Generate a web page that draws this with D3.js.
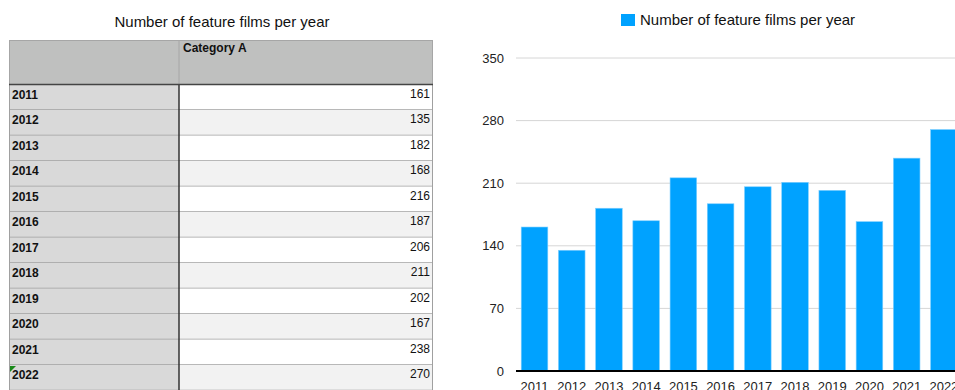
<!DOCTYPE html>
<html><head><meta charset="utf-8">
<script src="https://cdn.jsdelivr.net/npm/d3@7"></script>
<style>body{margin:0;background:#fff;overflow:hidden}svg{display:block}</style>
</head><body>
<svg id="c" width="955" height="390"></svg>
<script>
const title = "Number of feature films per year";
const columnHeader = "Category A";
const years = ["2011","2012","2013","2014","2015","2016","2017","2018","2019","2020","2021","2022"];
const films = [161,135,182,168,216,187,206,211,202,167,238,270];
const yTicks = [0,70,140,210,280,350];

const svg = d3.select("#c");
const font = "'Liberation Sans', Arial, Helvetica, sans-serif";

// ---------- Table ----------
const tX = d3.scaleLinear().domain([0,1,2]).range([9,179,433]);
const headerTop = 40, headerBottom = 84.5, rowH = 25.5;
const rowY = d3.scaleLinear().domain([0,1]).range([headerBottom, headerBottom+rowH]);

svg.append("text").attr("x",222).attr("y",27).attr("text-anchor","middle")
  .attr("font-family",font).attr("font-size",15).attr("fill","#111").text(title);

const tbl = svg.append("g");
tbl.append("rect").attr("x",tX(0)).attr("y",headerTop).attr("width",tX(2)-tX(0)).attr("height",headerBottom-headerTop)
  .attr("fill","#bfc0bf");
tbl.append("line").attr("x1",tX(1)).attr("x2",tX(1)).attr("y1",headerTop).attr("y2",headerBottom).attr("stroke","#a6a6a6");
tbl.append("rect").attr("x",tX(0)+0.5).attr("y",headerTop+0.5).attr("width",tX(2)-tX(0)-1).attr("height",headerBottom-headerTop)
  .attr("fill","none").attr("stroke","#a6a6a6");
tbl.append("text").attr("x",tX(1)+4).attr("y",headerTop+12).attr("font-family",font).attr("font-size",12)
  .attr("font-weight","bold").attr("fill","#111").text(columnHeader);

const rows = tbl.selectAll("g.row").data(years).join("g").attr("class","row");
rows.append("rect").attr("x",tX(0)).attr("y",(d,i)=>rowY(i)).attr("width",tX(1)-tX(0)).attr("height",rowH).attr("fill","#d9d9d9");
rows.append("rect").attr("x",tX(1)).attr("y",(d,i)=>rowY(i)).attr("width",tX(2)-tX(1)).attr("height",rowH)
  .attr("fill",(d,i)=> i%2===0 ? "#ffffff" : "#f2f2f2");
rows.append("line").attr("x1",tX(0)).attr("x2",tX(2)).attr("y1",(d,i)=>rowY(i+1)).attr("y2",(d,i)=>rowY(i+1))
  .attr("stroke","#a0a0a0").attr("stroke-width",1.5);
rows.append("text").attr("x",tX(0)+3).attr("y",(d,i)=>rowY(i)+14).attr("font-family",font).attr("font-size",12)
  .attr("font-weight","bold").attr("fill","#111").text(d=>d);
rows.append("text").attr("x",tX(2)-3).attr("y",(d,i)=>rowY(i)+13).attr("text-anchor","end").attr("font-family",font)
  .attr("font-size",12).attr("fill","#111").text((d,i)=>films[i]);
// borders
tbl.append("line").attr("x1",tX(0)+0.5).attr("x2",tX(0)+0.5).attr("y1",headerBottom).attr("y2",390).attr("stroke","#a0a0a0");
tbl.append("line").attr("x1",tX(2)-0.5).attr("x2",tX(2)-0.5).attr("y1",headerBottom).attr("y2",390).attr("stroke","#a0a0a0");
tbl.append("line").attr("x1",tX(1)).attr("x2",tX(1)).attr("y1",headerBottom).attr("y2",390).attr("stroke","#333").attr("stroke-width",1.5);
tbl.append("line").attr("x1",tX(0)).attr("x2",tX(2)).attr("y1",headerBottom).attr("y2",headerBottom).attr("stroke","#444").attr("stroke-width",1.5);
// comment marker on last row
const lastY = rowY(years.length-1);
tbl.append("path").attr("d",`M${tX(0)+1},${lastY+1}h6l-6,6z`).attr("fill","#1a8a1a");

// ---------- Bar chart ----------
const x = d3.scaleBand().domain(years).range([516, 962.4]).paddingInner(0.285).paddingOuter(0.14);
const y = d3.scaleLinear().domain([0,350]).range([371,58]);

const grid = svg.append("g");
grid.selectAll("line").data(yTicks.filter(t=>t>0)).join("line")
  .attr("x1",516).attr("x2",955).attr("y1",d=>y(d)).attr("y2",d=>y(d))
  .attr("stroke","#d6d6d6").attr("stroke-width",1);

const yAxis = svg.append("g").attr("transform","translate(504,0)")
  .call(d3.axisLeft(y).tickValues(yTicks).tickSize(0).tickPadding(0));
yAxis.select(".domain").remove();
yAxis.selectAll("text").attr("font-family",font).attr("font-size",13).attr("fill","#222");

svg.append("g").selectAll("rect").data(films).join("rect")
  .attr("x",(d,i)=>x(years[i])).attr("width",x.bandwidth())
  .attr("y",d=>y(d)).attr("height",d=>y(0)-y(d))
  .attr("fill","#00a2ff").attr("stroke","#7fcfff").attr("stroke-width",0.6);

svg.append("line").attr("x1",516).attr("x2",955).attr("y1",y(0)).attr("y2",y(0)).attr("stroke","#000").attr("stroke-width",2);

const xAxis = svg.append("g").attr("transform",`translate(0,${y(0)})`)
  .call(d3.axisBottom(x).tickSize(0).tickPadding(11));
xAxis.select(".domain").remove();
xAxis.selectAll("text").attr("font-family",font).attr("font-size",13).attr("fill","#222");

// legend
const lg = svg.append("g").attr("transform","translate(621,14)");
lg.append("rect").attr("width",14).attr("height",12).attr("fill","#00a2ff");
lg.append("text").attr("x",19).attr("y",11).attr("font-family",font).attr("font-size",15).attr("fill","#111").text(title);
</script>
</body></html>
